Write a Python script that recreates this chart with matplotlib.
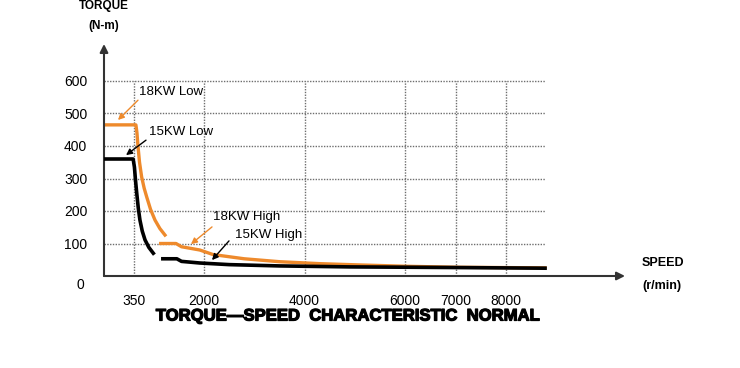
import numpy as np
import matplotlib.pyplot as plt
import matplotlib.patheffects as pe

# torque-speed curves (speed in r/min, torque in N-m)
speed_ticks = [350, 2000, 4000, 6000, 7000, 8000]
torque_ticks = [100, 200, 300, 400, 500, 600]

kw18_low_speed = [0, 395, 420, 440, 480, 530, 590, 650, 740, 845, 960, 1080]
kw18_low_torque = [465, 465, 440, 405, 350, 305, 270, 243, 205, 172, 146, 126]
kw15_low_speed = [0, 340, 360, 385, 415, 450, 490, 545, 610, 700, 805]
kw15_low_torque = [360, 360, 335, 295, 254, 210, 172, 138, 111, 88, 70]
kw18_high_speed = [980, 1340, 1470, 1900, 2180, 2800, 3500, 4300, 5100, 6000, 7000, 8780]
kw18_high_torque = [100, 100, 90, 80, 66, 53, 44, 38, 34, 30, 27, 25]
kw15_high_speed = [1030, 1360, 1470, 1900, 2500, 3500, 4900, 6000, 7000, 8780]
kw15_high_torque = [53, 53, 45, 40, 35, 31, 28, 27, 26, 24]

ORANGE = '#EE8A2C'
GRID = '#6e6e6e'

# the speed axis of the sheet is not linear: 0-350 and 350-2000 are stretched
knot_rpm = np.array([0, 350, 2000, 12000])
knot_pos = np.array([0, 30, 100, 603])


def fwd(x):
    return np.interp(x, knot_rpm, knot_pos)


def inv(p):
    return np.interp(p, knot_pos, knot_rpm)


plt.rcParams['font.family'] = ['Liberation Sans', 'DejaVu Sans']

fig = plt.figure(figsize=(7.4, 3.68), dpi=100)
ax = fig.add_axes([104 / 740, 92 / 368, 526 / 740, 236 / 368])
ax.set_xscale('function', functions=(fwd, inv))
ax.set_xlim(0, inv(526))
ax.set_ylim(0, 236 / 0.325)
for s in ax.spines.values():
    s.set_visible(False)

grid_end = inv(441)
ax.hlines(torque_ticks, 0, grid_end, colors=GRID, linestyles=(0, (1, 1)), lw=1, zorder=1)
ax.vlines(speed_ticks, 0, 600, colors=GRID, linestyles=(0, (1, 1)), lw=1, zorder=1)

ax.plot(kw18_low_speed, kw18_low_torque, color=ORANGE, lw=2.4, zorder=3, solid_joinstyle='round')
ax.plot(kw18_high_speed, kw18_high_torque, color=ORANGE, lw=2.4, zorder=3, solid_joinstyle='round')
ax.plot(kw15_low_speed, kw15_low_torque, color='black', lw=2.6, zorder=4, solid_joinstyle='round')
ax.plot(kw15_high_speed, kw15_high_torque, color='black', lw=2.6, zorder=4, solid_joinstyle='round')

# axes with arrow heads
ax.annotate('', xy=(0, 232 / 0.325), xytext=(0, 0), annotation_clip=False,
            arrowprops=dict(arrowstyle='-|>', color='#333333', lw=1.5, mutation_scale=12, shrinkA=0, shrinkB=0))
ax.annotate('', xy=(inv(521), 0), xytext=(0, 0), annotation_clip=False,
            arrowprops=dict(arrowstyle='-|>', color='#333333', lw=1.5, mutation_scale=12, shrinkA=0, shrinkB=0))

ax.set_xticks(speed_ticks)
ax.set_xticklabels([str(v) for v in speed_ticks], fontsize=10)
ax.set_yticks(torque_ticks)
ax.set_yticklabels([str(v) for v in torque_ticks], fontsize=10)
ax.tick_params(length=0)
ax.tick_params(axis='x', pad=13)
ax.tick_params(axis='y', pad=12)

labels = [
    ('18KW Low', (468, 566), (444, 541), (163, 480), ORANGE),
    ('15KW Low', (704, 443), (633, 418), (257, 372), 'black'),
    ('18KW High', (2179, 182), (2159, 151), (1693, 98), ORANGE),
    ('15KW High', (2616, 126), (2497, 108), (2159, 49), 'black'),
]
for txt, tpos, tail, head, col in labels:
    ax.text(tpos[0], tpos[1], txt, fontsize=9.5, ha='left', va='center', zorder=5)
    ax.annotate('', xy=head, xytext=tail,
                arrowprops=dict(arrowstyle='-|>', color=col, lw=1, mutation_scale=9, shrinkA=0, shrinkB=0))

fig.text(80 / 740, 1 - 285 / 368, '0', fontsize=10, ha='center', va='center')
fig.text(104 / 740, 1 - 6 / 368, 'TORQUE', fontsize=8.5, fontweight='bold', ha='center', va='center')
fig.text(104 / 740, 1 - 26 / 368, '(N-m)', fontsize=8.5, fontweight='bold', ha='center', va='center')
fig.text(642 / 740, 1 - 263 / 368, 'SPEED', fontsize=9, fontweight='bold', ha='left', va='center')
fig.text(642 / 740, 1 - 286 / 368, '(r/min)', fontsize=9, fontweight='bold', ha='left', va='center')
fig.text(347 / 740, 1 - 316 / 368, 'TORQUE\u2014SPEED  CHARACTERISTIC  NORMAL', fontsize=12,
         fontweight='bold', ha='center', va='center',
         path_effects=[pe.withStroke(linewidth=0.9, foreground='black')])

fig.savefig('out.png', dpi=100)
